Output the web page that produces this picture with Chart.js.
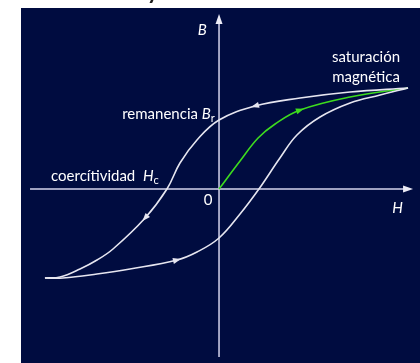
<!DOCTYPE html>
<html>
<head>
<meta charset="utf-8">
<script src="https://cdn.jsdelivr.net/npm/chart.js@4.4.1/dist/chart.umd.min.js"></script>
<style>
  html, body { margin: 0; padding: 0; background: #ffffff; }
  #wrap { width: 420px; height: 363px; position: relative; }
</style>
</head>
<body>
<div id="wrap"><canvas id="histeresis"></canvas></div>
<script>
// Ciclo de histéresis: B frente a H

// rama descendente (desde la saturación hacia -H), ordenada por H
const hBajada = [-8.29, -7.57, -6.62, -5.81, -5.05, -3.52, -2.48, -1.86, -1.05, 0, 1.71, 3.86, 6.24, 9.0];
const bBajada = [-0.89, -0.88, -0.80, -0.71, -0.60, -0.29, 0, 0.26, 0.49, 0.69, 0.83, 0.91, 0.97, 1.01];

// rama ascendente (desde -H hacia la saturación)
const hSubida = [-8.29, -7.43, -5.81, -4.24, -2.0, -1.05, 0, 1.0, 1.9, 2.9, 3.71, 4.81, 6.24, 7.67, 9.0];
const bSubida = [-0.89, -0.89, -0.85, -0.80, -0.71, -0.63, -0.49, -0.25, 0, 0.31, 0.54, 0.72, 0.86, 0.94, 1.01];

// curva de primera imanación (verde)
const hInicial = [0, 1.0, 1.86, 2.67, 3.86, 6.24, 9.0];
const bInicial = [0, 0.28, 0.51, 0.65, 0.79, 0.92, 1.01];

// extremos de los ejes
const ejeH = [-9.0, 9.24];
const ejeB = [-1.68, 1.75];

// flechas sobre las curvas: dataset, índice del punto, sentido
const flechas = [
    { ds: 0, idx: 10, sentido: -1 },
    { ds: 0, idx: 5, sentido: -1 },
    { ds: 1, idx: 4, sentido: 1 },
    { ds: 2, idx: 4, sentido: 1 }
];

const FONDO = '#000c40';
const BLANCO = '#e6e6f0';
const VERDE = '#3ddc1e';
const FUENTE = 'Lato, "Open Sans", sans-serif';

function puntos(hs, bs) {
    return hs.map((h, i) => ({ x: h, y: bs[i] }));
}

function triangulo(ctx, x, y, dx, dy, largo, ancho, color) {
    const n = Math.hypot(dx, dy) || 1;
    const ux = dx / n, uy = dy / n;
    ctx.save();
    ctx.fillStyle = color;
    ctx.beginPath();
    ctx.moveTo(x + ux * largo / 2, y + uy * largo / 2);
    ctx.lineTo(x - ux * largo / 2 - uy * ancho / 2, y - uy * largo / 2 + ux * ancho / 2);
    ctx.lineTo(x - ux * largo / 2 + uy * ancho / 2, y - uy * largo / 2 - ux * ancho / 2);
    ctx.closePath();
    ctx.fill();
    ctx.restore();
}

// fondo azul oscuro con el borde blanco
const fondoPlugin = {
    id: 'fondo',
    beforeDraw(chart) {
        const ctx = chart.ctx;
        ctx.save();
        ctx.fillStyle = '#ffffff';
        ctx.fillRect(0, 0, chart.width, chart.height);
        ctx.fillStyle = FONDO;
        ctx.fillRect(21, 8, chart.width - 21, chart.height - 8);
        // resto del título que queda cortado arriba
        ctx.fillStyle = '#1a1a1a';
        ctx.font = 'bold 22px ' + FUENTE;
        ctx.textBaseline = 'alphabetic';
        ctx.fillText('y', 147, -1);
        ctx.restore();
    }
};

// ejes H y B con flecha
const ejesPlugin = {
    id: 'ejes',
    beforeDatasetsDraw(chart) {
        const { ctx, scales: { x, y } } = chart;
        const x0 = x.getPixelForValue(0), y0 = y.getPixelForValue(0);
        const xa = x.getPixelForValue(ejeH[0]), xb = x.getPixelForValue(ejeH[1]);
        const ya = y.getPixelForValue(ejeB[0]), yb = y.getPixelForValue(ejeB[1]);
        ctx.save();
        ctx.strokeStyle = '#d4d4ec';
        ctx.lineWidth = 1.5;
        ctx.beginPath();
        ctx.moveTo(xa, y0);
        ctx.lineTo(xb - 8, y0);
        ctx.moveTo(x0, ya);
        ctx.lineTo(x0, yb + 8);
        ctx.stroke();
        ctx.restore();
        triangulo(ctx, xb - 5, y0, 1, 0, 10, 7, '#ececf6');
        triangulo(ctx, x0, yb + 5, 0, -1, 10, 7, '#ececf6');
    },
    afterDatasetsDraw(chart) {
        const ctx = chart.ctx;
        flechas.forEach(f => {
            const pt = chart.getDatasetMeta(f.ds).data[f.idx];
            const dx = (pt.cp2x - pt.cp1x) * f.sentido;
            const dy = (pt.cp2y - pt.cp1y) * f.sentido;
            const color = chart.data.datasets[f.ds].borderColor;
            triangulo(ctx, pt.x, pt.y, dx, dy, 8, 6, color);
        });
    }
};

// rótulos del gráfico
function texto(ctx, partes, x, y, align) {
    // partes: [texto, cursiva, subíndice]
    let ancho = 0;
    const medidas = partes.map(p => {
        ctx.font = (p[1] ? 'italic ' : '') + (p[2] ? '11px ' : '15px ') + FUENTE;
        const w = ctx.measureText(p[0]).width;
        ancho += w;
        return w;
    });
    let cx = align === 'right' ? x - ancho : align === 'center' ? x - ancho / 2 : x;
    partes.forEach((p, i) => {
        ctx.font = (p[1] ? 'italic ' : '') + (p[2] ? '11px ' : '15px ') + FUENTE;
        ctx.fillText(p[0], cx, p[2] ? y + 3 : y);
        cx += medidas[i];
    });
}

const rotulosPlugin = {
    id: 'rotulos',
    afterDraw(chart) {
        const { ctx, scales: { x, y } } = chart;
        const px = v => x.getPixelForValue(v);
        const py = v => y.getPixelForValue(v);
        ctx.save();
        ctx.fillStyle = '#ffffff';
        ctx.textBaseline = 'alphabetic';
        texto(ctx, [['saturación', false, false]], px(7.0), py(1.27), 'center');
        texto(ctx, [['magnética', false, false]], px(7.0), py(1.07), 'center');
        texto(ctx, [['remanencia ', false, false], ['B', true, false], ['r', false, true]], px(-0.2), py(0.70), 'right');
        texto(ctx, [['coercítividad  ', false, false], ['H', true, false], ['c', false, true]], px(-8.0), py(0.08), 'left');
        texto(ctx, [['0', false, false]], px(-0.52), py(-0.16), 'center');
        texto(ctx, [['B', true, false]], px(-0.8), py(1.54), 'center');
        texto(ctx, [['H', true, false]], px(8.5), py(-0.24), 'center');
        ctx.restore();
    }
};

new Chart(document.getElementById('histeresis'), {
    type: 'line',
    data: {
        datasets: [
            { label: 'rama descendente', data: puntos(hBajada, bBajada), borderColor: BLANCO },
            { label: 'rama ascendente', data: puntos(hSubida, bSubida), borderColor: BLANCO },
            { label: 'primera imanación', data: puntos(hInicial, bInicial), borderColor: VERDE }
        ]
    },
    options: {
        responsive: true,
        maintainAspectRatio: false,
        animation: false,
        layout: { padding: 0 },
        elements: {
            point: { radius: 0, hoverRadius: 0 },
            line: { borderWidth: 1.6, tension: 0.4, fill: false }
        },
        scales: {
            x: { type: 'linear', display: false, min: -10.43, max: 9.57 },
            y: { type: 'linear', display: false, min: -1.74, max: 1.89 }
        },
        plugins: {
            legend: { display: false },
            tooltip: { enabled: false }
        }
    },
    plugins: [fondoPlugin, ejesPlugin, rotulosPlugin]
});
</script>
</body>
</html>
